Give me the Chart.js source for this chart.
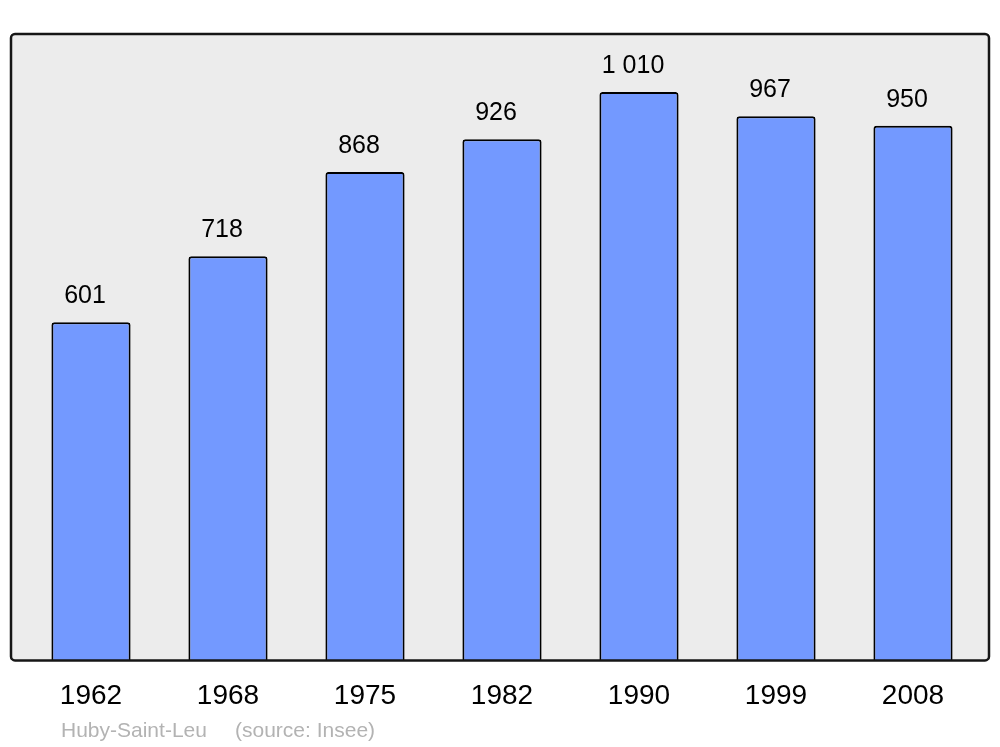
<!DOCTYPE html>
<html>
<head>
<meta charset="utf-8">
<script src="https://cdn.jsdelivr.net/npm/chart.js@4"></script>
<style>
  html, body { margin: 0; padding: 0; background: #ffffff; }
  #wrap { width: 1000px; height: 747px; }
</style>
</head>
<body>
<div id="wrap"><canvas id="popChart" width="1000" height="747"></canvas></div>
<script>
// Population data (Insee)
const years = ['1962', '1968', '1975', '1982', '1990', '1999', '2008'];
const population = [601, 718, 868, 926, 1010, 967, 950];
const townName = 'Huby-Saint-Leu';
const sourceText = '(source: Insee)';

// french style: 1 010
function formatPop(v) {
    return String(v).replace(/\B(?=(\d{3})+(?!\d))/g, ' ');
}

// grey frame behind the bars
const frameBox = {
    id: 'frameBox',
    beforeDatasetsDraw(chart) {
        const { ctx, chartArea } = chart;
        const x = chartArea.left - 11.5;
        const y = chartArea.top;
        const w = chartArea.right + 7.5 - x;
        const h = chartArea.bottom - y;
        ctx.save();
        ctx.beginPath();
        ctx.roundRect(x, y, w, h, 4);
        ctx.fillStyle = '#ececec';
        ctx.fill();
        ctx.restore();
    },
    afterDatasetsDraw(chart) {
        const { ctx, chartArea } = chart;
        const x = chartArea.left - 11.5;
        const y = chartArea.top;
        const w = chartArea.right + 7.5 - x;
        const h = chartArea.bottom - y;
        ctx.save();
        ctx.beginPath();
        ctx.roundRect(x, y, w, h, 4);
        ctx.lineWidth = 2.5;
        ctx.strokeStyle = '#161616';
        ctx.stroke();
        ctx.restore();
    }
};

// numbers above bars + footer
const barLabels = {
    id: 'barLabels',
    afterDraw(chart) {
        const { ctx } = chart;
        const meta = chart.getDatasetMeta(0);
        ctx.save();
        ctx.font = '25px "Liberation Sans", Arial, sans-serif';
        ctx.fillStyle = '#000000';
        ctx.textAlign = 'center';
        ctx.textBaseline = 'alphabetic';
        meta.data.forEach((bar, i) => {
            ctx.fillText(formatPop(population[i]), bar.x - 6, bar.y - 19);
        });

        ctx.font = '21px "Liberation Sans", Arial, sans-serif';
        ctx.fillStyle = '#b3b3b3';
        ctx.textAlign = 'left';
        ctx.fillText(townName, 61, 737);
        ctx.fillText(sourceText, 235, 737);
        ctx.restore();
    }
};

const ctx = document.getElementById('popChart').getContext('2d');
const chart = new Chart(ctx, {
    type: 'bar',
    data: {
        labels: years,
        datasets: [
            {
                data: population,
                backgroundColor: '#7399ff',
                borderColor: '#000000',
                borderWidth: 2,
                borderRadius: 3,
                barPercentage: 0.578,
                categoryPercentage: 1.0,
            },
        ],
    },
    options: {
        responsive: false,
        animation: false,
        layout: {
            padding: { left: 22.5, right: 18.5, top: 34, bottom: 23 }
        },
        scales: {
            x: {
                grid: { display: false },
                border: { display: false },
                ticks: {
                    color: '#000000',
                    padding: 11,
                    font: { family: '"Liberation Sans", Arial, sans-serif', size: 28 }
                }
            },
            y: {
                display: false,
                min: 0,
                max: 1113,
            },
        },
        plugins: {
            legend: { display: false },
            tooltip: { enabled: false },
        },
    },
    plugins: [frameBox, barLabels],
});
</script>
</body>
</html>
